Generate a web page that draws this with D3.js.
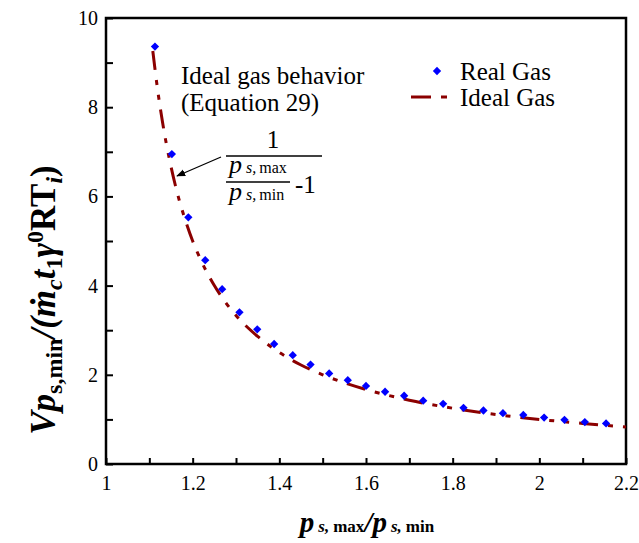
<!DOCTYPE html>
<html>
<head>
<meta charset="utf-8">
<script src="https://cdn.jsdelivr.net/npm/d3@7"></script>
<style>
  html, body { margin: 0; padding: 0; background: #fff; }
  svg { display: block; }
  svg text { font-family: "Liberation Serif", "Tinos", "Times New Roman", "DejaVu Serif", serif !important; fill: #000; }
</style>
</head>
<body>
<svg id="chart" width="639" height="543"></svg>
<script>
// ---- data ----
const realX = [1.113, 1.152, 1.190, 1.229, 1.268, 1.308, 1.349, 1.388, 1.431, 1.472,
               1.515, 1.558, 1.600, 1.644, 1.688, 1.732, 1.778, 1.825, 1.871, 1.916,
               1.963, 2.011, 2.058, 2.105, 2.154];
const realY = [9.36, 6.95, 5.53, 4.57, 3.92, 3.40, 3.02, 2.69, 2.44, 2.23,
               2.03, 1.88, 1.75, 1.62, 1.53, 1.42, 1.35, 1.26, 1.20, 1.14,
               1.10, 1.04, 0.99, 0.94, 0.91];
const idealX = [1.108, 1.12, 1.13, 1.14, 1.15, 1.16, 1.17, 1.18, 1.20, 1.22, 1.25, 1.28,
                1.30, 1.35, 1.40, 1.45, 1.50, 1.55, 1.60, 1.70, 1.80, 1.90, 2.00, 2.10, 2.20];
const idealY = [9.26, 8.33, 7.69, 7.14, 6.67, 6.25, 5.88, 5.56, 5.00, 4.55, 4.00, 3.57,
                3.33, 2.86, 2.50, 2.22, 2.00, 1.82, 1.67, 1.43, 1.25, 1.11, 1.00, 0.91, 0.83];
const xTickLabels = [1, 1.2, 1.4, 1.6, 1.8, 2, 2.2];
const yTickLabels = [0, 2, 4, 6, 8, 10];
const xMinorTicks = [1.0,1.1,1.2,1.3,1.4,1.5,1.6,1.7,1.8,1.9,2.0,2.1,2.2];
const yMinorTicks = [0,1,2,3,4,5,6,7,8,9,10];
const seriesNames = ["Real Gas", "Ideal Gas"];

// ---- layout ----
const svg = d3.select("#chart");
const L = 106, R = 626, T = 18, B = 464;
const x = d3.scaleLinear().domain([1, 2.2]).range([L, R]);
const y = d3.scaleLinear().domain([0, 10]).range([B, T]);
const realColor = "#0000FF", idealColor = "#8B0000";
const dashPattern = "19,10,5,10,5,10";
const txtSize = "25px";

const xAxis = d3.axisBottom(x).tickValues(xMinorTicks).tickSizeInner(-6).tickSizeOuter(0)
  .tickPadding(12).tickFormat(d => xTickLabels.some(v => Math.abs(v - d) < 1e-9) ? d3.format("")(+d.toFixed(1)) : "");
const gx = svg.append("g").attr("transform", `translate(0,${B})`).call(xAxis).attr("font-family", null);
gx.select(".domain").remove();
gx.selectAll("line").attr("stroke", "#000").attr("stroke-width", 2);
gx.selectAll("text").style("font-size", "20px");

const yAxis = d3.axisLeft(y).tickValues(yMinorTicks).tickSizeInner(-7).tickSizeOuter(0)
  .tickPadding(8).tickFormat(d => yTickLabels.includes(d) ? d : "");
const gy = svg.append("g").attr("transform", `translate(${L},0)`).call(yAxis).attr("font-family", null);
gy.select(".domain").remove();
gy.selectAll("line").attr("stroke", "#000").attr("stroke-width", 2);
gy.selectAll("text").style("font-size", "20px");

svg.append("rect").attr("x", L).attr("y", T).attr("width", R - L).attr("height", B - T)
  .attr("fill", "none").attr("stroke", "#000").attr("stroke-width", 2.5);

const idealData = idealX.map((v, i) => [v, idealY[i]]);
svg.append("path").datum(idealData)
  .attr("d", d3.line().x(d => x(d[0])).y(d => y(d[1])).curve(d3.curveMonotoneX))
  .attr("fill", "none").attr("stroke", idealColor).attr("stroke-width", 3)
  .attr("stroke-dasharray", dashPattern);

const diamond = d3.symbol().type(d3.symbolDiamond2).size(44);
svg.append("g").selectAll("path").data(realX.map((v, i) => [v, realY[i]])).join("path")
  .attr("d", diamond).attr("transform", d => `translate(${x(d[0])},${y(d[1])})`)
  .attr("fill", realColor);

svg.append("path").attr("d", diamond).attr("transform", "translate(437,71)").attr("fill", realColor);
svg.append("text").attr("x", 460).attr("y", 80).style("font-size", txtSize).text(seriesNames[0]);
svg.append("line").attr("x1", 411).attr("x2", 448).attr("y1", 97).attr("y2", 97)
  .attr("stroke", idealColor).attr("stroke-width", 3).attr("stroke-dasharray", "20,10,6,10");
svg.append("text").attr("x", 460).attr("y", 106).style("font-size", txtSize).text(seriesNames[1]);

svg.append("text").attr("x", 181).attr("y", 84).style("font-size", txtSize).text("Ideal gas behavior");
svg.append("text").attr("x", 181).attr("y", 111).style("font-size", txtSize).text("(Equation 29)");
svg.append("text").attr("x", 273).attr("y", 148).attr("text-anchor", "middle").style("font-size", txtSize).text("1");
svg.append("line").attr("x1", 226).attr("x2", 322).attr("y1", 156).attr("y2", 156).attr("stroke", "#000").attr("stroke-width", 1.3);
function pLabel(xp, yp, sub) {
  const t = svg.append("text").attr("x", xp).attr("y", yp);
  t.append("tspan").style("font-size", "26px").style("font-style", "italic").text("p");
  t.append("tspan").style("font-size", "16px").style("font-style", "italic").attr("dx", 4).text("s,");
  t.append("tspan").style("font-size", "16px").attr("dx", 3).text(sub);
}
pLabel(229, 173, "max");
svg.append("line").attr("x1", 226).attr("x2", 290).attr("y1", 182).attr("y2", 182).attr("stroke", "#000").attr("stroke-width", 1.3);
pLabel(229, 200, "min");
svg.append("text").attr("x", 295).attr("y", 193).style("font-size", txtSize).text("-1");

svg.append("defs").append("marker").attr("id", "arr").attr("viewBox", "0 0 10 10")
  .attr("refX", 9).attr("refY", 5).attr("markerWidth", 9).attr("markerHeight", 9)
  .attr("markerUnits", "userSpaceOnUse").attr("orient", "auto")
  .append("path").attr("d", "M0,1 L10,5 L0,9 Z").attr("fill", "#000");
svg.append("line").attr("x1", 221).attr("y1", 157).attr("x2", 177).attr("y2", 176)
  .attr("stroke", "#000").attr("stroke-width", 1.3).attr("marker-end", "url(#arr)");

const xt = svg.append("text").attr("x", 367).attr("y", 532).attr("text-anchor", "middle")
  .style("font-weight", "bold");
xt.append("tspan").style("font-size", "29px").style("font-style", "italic").text("p");
xt.append("tspan").style("font-size", "17px").style("font-style", "italic").attr("dx", 4).text("s,");
xt.append("tspan").style("font-size", "17px").attr("dx", 4).text("max");
xt.append("tspan").style("font-size", "29px").style("font-style", "italic").text("/p");
xt.append("tspan").style("font-size", "17px").style("font-style", "italic").attr("dx", 4).text("s,");
xt.append("tspan").style("font-size", "17px").attr("dx", 4).text("min");

const yt = svg.append("text").attr("transform", "translate(55,300) rotate(-90)")
  .attr("text-anchor", "middle").style("font-weight", "bold");
const big = "35px", small = "24px";
function ts(txt, size, italic, dy) {
  const s = yt.append("tspan").style("font-size", size).text(txt);
  if (italic) s.style("font-style", "italic");
  if (dy) s.attr("dy", dy);
  return s;
}
ts("Vp", big, true);
ts("s,min", small, false, 7);
ts("/(", big, true, -7);
ts("ṁ", big, true);
ts("c", small, true, 7);
ts("t", big, true, -7);
ts("1", small, false, 7);
ts("γ", big, true, -7);
ts("0", small, false, -12);
ts("RT", big, false, 12);
ts("i", small, true, 7);
ts(")", big, false, -7);
</script>
</body>
</html>
